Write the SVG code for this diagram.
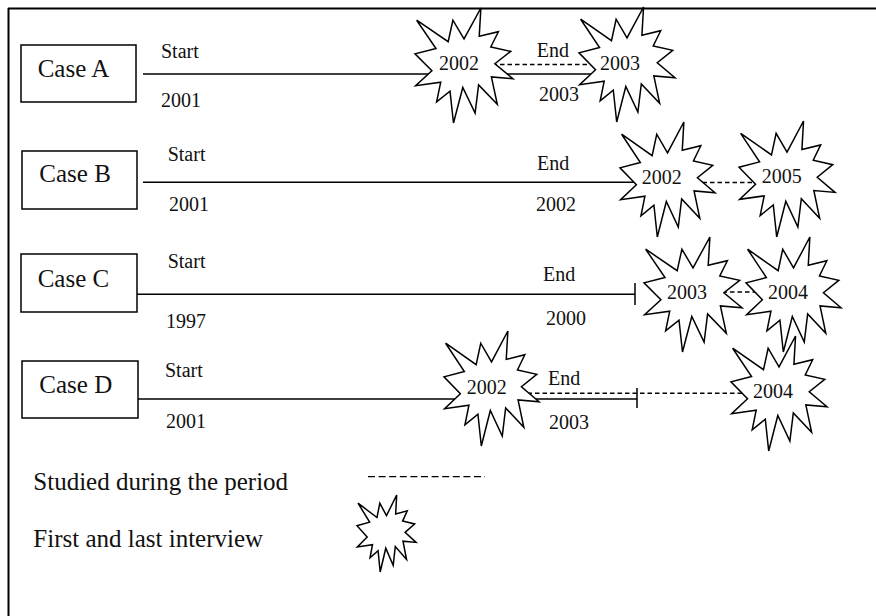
<svg xmlns="http://www.w3.org/2000/svg" xmlns:xlink="http://www.w3.org/1999/xlink" width="876" height="616" viewBox="0 0 876 616">
  <style>
    .frame { stroke: #000; stroke-width: 2; fill: none; }
    .box { fill: #fff; stroke: #000; stroke-width: 1.5; }
    .line { stroke: #000; stroke-width: 1.5; fill: none; }
    .dash { stroke: #000; stroke-width: 1.5; fill: none; stroke-dasharray: 4.5 3; }
    .dash-legend { stroke: #000; stroke-width: 1.3; fill: none; stroke-dasharray: 7 3.6; }
    .seal { fill: #fff; stroke: #000; stroke-width: 1.5; stroke-linejoin: miter; }
    text { font-family: "Liberation Serif", "Times New Roman", serif; fill: #111; }
    .big { font-size: 25px; }
    .small { font-size: 20px; }
  </style>
  <defs>
    <!-- explosion seal outline on a 100 x 100 grid -->
    <path id="seal" class="seal" vector-effect="non-scaling-stroke"
      d="M50,26.85 L38.67,10.63 L33.85,29.26 L1.71,10.63 L21.42,35.26 L0,39.88 L17.23,54.51 L0.625,67.53 L26.24,64.52 L22.05,81.56 L35.72,72.35 L39.28,100 L48.76,69.14 L61.33,91.38 L64.91,66.93 L84,83.77 L77.95,59.92 L100,61.53 L81.51,48.5 L97.67,37.67 L77.32,33.87 L85.09,20.63 L65.53,24.65 L67.23,0 Z"/>
  </defs>

  <rect width="876" height="616" fill="#fff"/>

  <!-- outer frame: top and left edges only -->
  <path class="frame" d="M8,8.5 H876 M8.5,8 V616"/>

  <!-- timelines -->
  <g id="connectors">
    <path class="line" d="M143,74 H620"/>
    <path class="dash" d="M470,64.5 H620"/>
    <path class="line" d="M143,182.3 H660"/>
    <path class="dash" d="M680,182.5 H790"/>
    <path class="line" d="M137,294.3 H635 M635,283 V305"/>
    <path class="dash" d="M700,292 H790"/>
    <path class="line" d="M138,399 H637 M637,388 V408"/>
    <path class="dash" d="M490,393.3 H770"/>
  </g>

  <!-- cases -->
  <g id="case-a">
    <rect class="box" x="21" y="45" width="115" height="57"/>
    <text class="big" x="37.7" y="77">Case A</text>
    <text class="small" x="161" y="58.3">Start</text>
    <text class="small" x="161" y="107.3">2001</text>
    <text class="small" x="536.7" y="56.7">End</text>
    <text class="small" x="539" y="100.7">2003</text>
  </g>
  <g id="case-b">
    <rect class="box" x="22" y="151" width="115" height="58"/>
    <text class="big" x="39.3" y="181.7">Case B</text>
    <text class="small" x="167.7" y="160.7">Start</text>
    <text class="small" x="169" y="211">2001</text>
    <text class="small" x="537" y="170">End</text>
    <text class="small" x="536" y="210.7">2002</text>
  </g>
  <g id="case-c">
    <rect class="box" x="21" y="254" width="116" height="58"/>
    <text class="big" x="37.7" y="287">Case C</text>
    <text class="small" x="167.7" y="267.7">Start</text>
    <text class="small" x="166" y="327.7">1997</text>
    <text class="small" x="543" y="281">End</text>
    <text class="small" x="546" y="325">2000</text>
  </g>
  <g id="case-d">
    <rect class="box" x="22" y="361" width="116" height="57"/>
    <text class="big" x="39.3" y="393.3">Case D</text>
    <text class="small" x="165" y="376.7">Start</text>
    <text class="small" x="166" y="427.7">2001</text>
    <text class="small" x="548" y="385">End</text>
    <text class="small" x="549" y="429">2003</text>
  </g>

  <!-- interview markers -->
  <g id="a-first"><use xlink:href="#seal" transform="translate(415,8) scale(0.98,1.15)"/><text class="small" x="439" y="70">2002</text></g>
  <g id="a-last"><use xlink:href="#seal" transform="translate(579,7) scale(0.96,1.15)"/><text class="small" x="600" y="70">2003</text></g>
  <g id="b-first"><use xlink:href="#seal" transform="translate(620,122) scale(0.95,1.15)"/><text class="small" x="641.7" y="184">2002</text></g>
  <g id="b-last"><use xlink:href="#seal" transform="translate(739,121) scale(0.96,1.16)"/><text class="small" x="761.7" y="183.3">2005</text></g>
  <g id="c-first"><use xlink:href="#seal" transform="translate(644,237) scale(0.98,1.15)"/><text class="small" x="667" y="299.3">2003</text></g>
  <g id="c-last"><use xlink:href="#seal" transform="translate(746,237) scale(0.95,1.15)"/><text class="small" x="768" y="299.3">2004</text></g>
  <g id="d-first"><use xlink:href="#seal" transform="translate(444,331) scale(0.95,1.15)"/><text class="small" x="466.7" y="394">2002</text></g>
  <g id="d-last"><use xlink:href="#seal" transform="translate(731,336) scale(0.96,1.15)"/><text class="small" x="753" y="398.3">2004</text></g>

  <!-- legend -->
  <g id="legend">
    <text class="big" x="33.3" y="490">Studied during the period</text>
    <path class="dash-legend" d="M368,476.7 H485"/>
    <text class="big" x="33.3" y="546.7">First and last interview</text>
    <use xlink:href="#seal" transform="translate(357,495) scale(0.59,0.77)"/>
  </g>
</svg>
